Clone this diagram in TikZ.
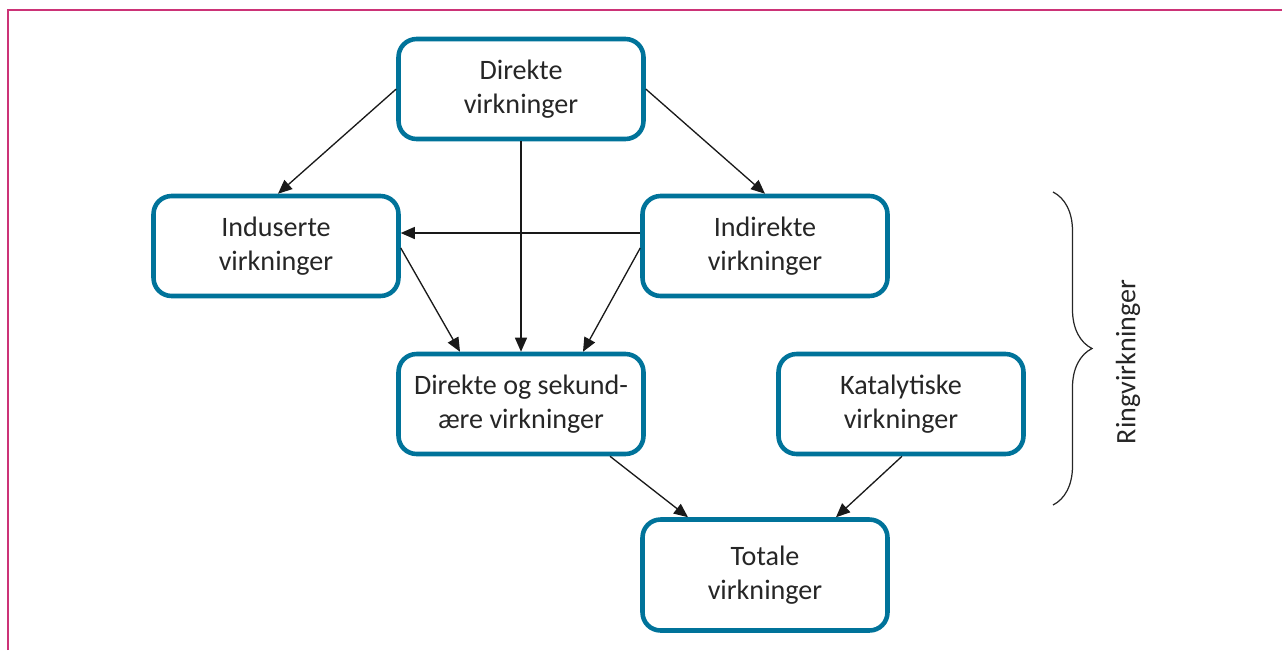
\documentclass[tikz,border=0pt]{standalone}
\usepackage{fontspec}
\setmainfont{Carlito}
\usetikzlibrary{arrows.meta,decorations.pathreplacing}
\definecolor{boxblue}{RGB}{0,115,154}
\definecolor{framepink}{RGB}{204,51,119}
\begin{document}
\begin{tikzpicture}[x=0.02cm,y=-0.02cm,
  effect/.style={draw=boxblue,line width=2.6pt,rounded corners=0.36cm,fill=white,
    minimum width=4.9cm,minimum height=2cm,align=center,
    font=\fontsize{16}{19.5}\selectfont,text=black!85},
  flow/.style={-{Triangle[length=0.28cm,width=0.24cm]},line width=0.75pt,black!90}]
\useasboundingbox (0,0) rectangle (1282,650);
\draw[framepink,line width=1.2pt] (8,650) -- (8,10) -- (1282,10);
% boxes
\node[effect] (direct) at (521,89) {Direkte\\virkninger};
\node[effect] (induced) at (276,246) {Induserte\\virkninger};
\node[effect] (indirect) at (765,246) {Indirekte\\virkninger};
\node[effect] (dirsec) at (521,404) {Direkte og sekund-\\ære virkninger};
\node[effect] (catalytic) at (901,404) {Katalytiske\\virkninger};
\node[effect,minimum height=2.22cm] (total) at (765,575) {Totale\\virkninger};
% arrows
\draw[flow] (direct.west) -- ([xshift=0.04cm]induced.north);
\draw[flow] (direct.east) -- (indirect.north);
\draw[flow] (direct.south) -- (dirsec.north);
\draw[flow] ([yshift=0.26cm]indirect.west) -- ([yshift=0.26cm]induced.east);
\draw[flow] ([yshift=-0.04cm]induced.east) -- ([xshift=-1.22cm]dirsec.north);
\draw[flow] ([yshift=-0.04cm]indirect.west) -- ([xshift=1.24cm]dirsec.north);
\draw[flow] ([xshift=1.78cm]dirsec.south) -- ([xshift=-1.54cm]total.north);
\draw[flow] ([xshift=0.02cm]catalytic.south) -- ([xshift=1.42cm]total.north);
% brace
\draw[decorate,decoration={brace,amplitude=0.78cm},line width=0.7pt,black!85]
  (1053,192) -- (1053,505);
\node[rotate=90,font=\fontsize{16}{19.5}\selectfont,text=black!85] (ring) at (1128,362) {Ringvirkninger};
\end{tikzpicture}
\end{document}
